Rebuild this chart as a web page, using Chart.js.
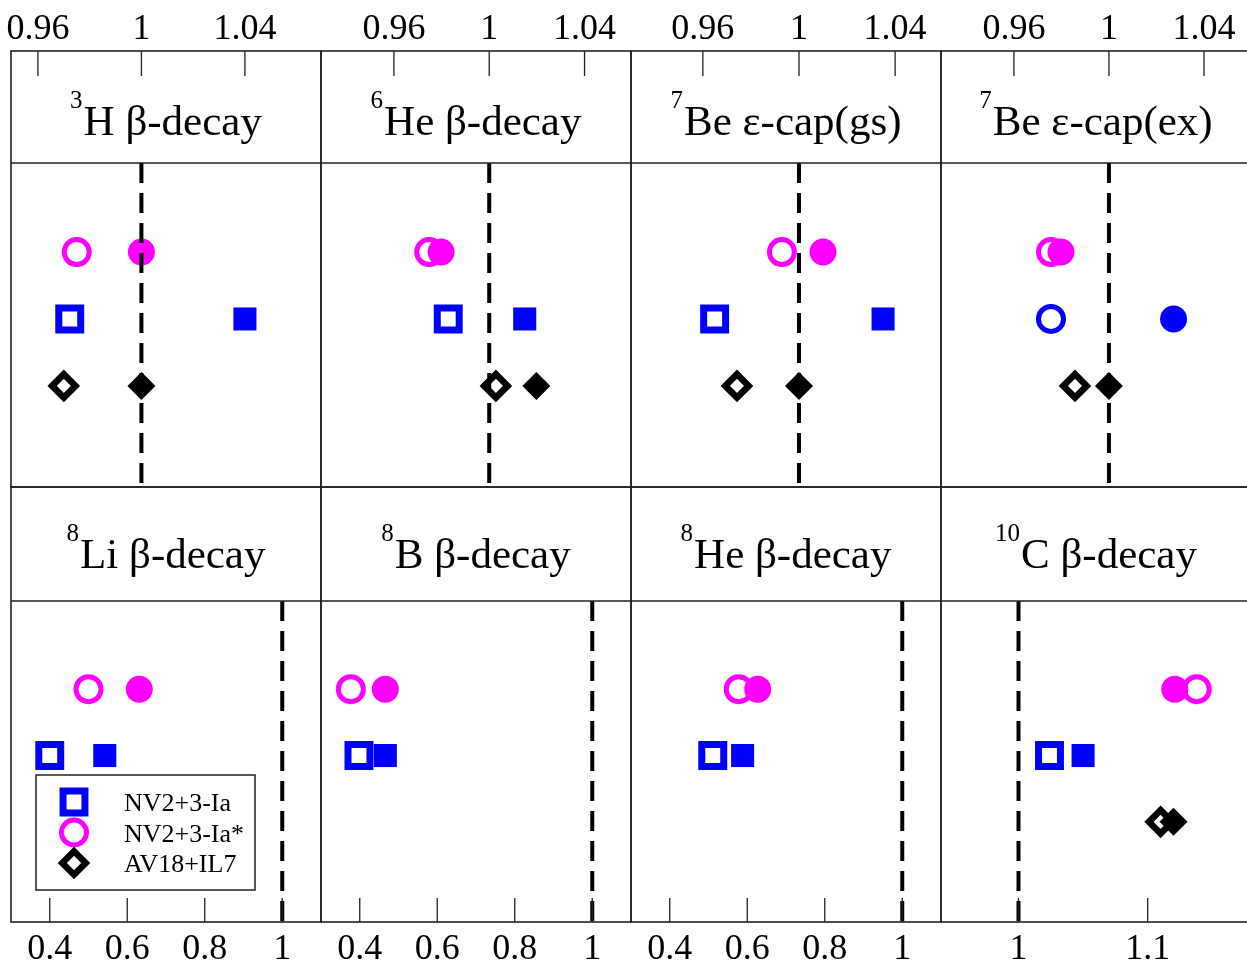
<!DOCTYPE html>
<html lang="en">
  <head>
    <title>Decay ratios</title>
    <meta charset="utf-8" />
    <script src="https://cdn.jsdelivr.net/npm/chart.js@4.4.1/dist/chart.umd.min.js"></script>
    <style>
      html, body { margin: 0; padding: 0; background: #fff; overflow: hidden; }
      #wrap { position: relative; width: 1247px; height: 966px; overflow: hidden; }
      #wrap canvas { position: absolute; left: -200px; top: 0; }
    </style>
  </head>
  <body>
    <div id="wrap"></div>

    <script>
      // panel titles (superscript mass number + process)
      var isotopes = ["3", "6", "7", "7", "8", "8", "8", "10"];
      var processes = ["H β-decay", "He β-decay", "Be ε-cap(gs)", "Be ε-cap(ex)",
                       "Li β-decay", "B β-decay", "He β-decay", "C β-decay"];
      var seriesNames = ["NV2+3-Ia", "NV2+3-Ia*", "AV18+IL7"];

      // ratios, one per panel (null = no value)
      var nvOpen       = [0.9723, 0.9828, 0.9649, 0.9756, 0.400, 0.398, 0.511, 1.024];
      var nvFilled     = [1.0400, 1.0149, 1.0350, 1.0272, 0.542, 0.466, 0.588, 1.050];
      var nvStarOpen   = [0.9750, 0.9748, 0.9929, 0.9756, 0.500, 0.377, 0.578, 1.138];
      var nvStarFilled = [1.0000, 0.9798, 1.0100, 0.9798, 0.631, 0.466, 0.627, 1.121];
      var avOpen       = [0.9700, 1.0028, 0.9742, 0.9857, null, null, null, 1.110];
      var avFilled     = [1.0000, 1.0198, 1.0000, 1.0000, null, null, null, 1.120];
      var refLine      = [1, 1, 1, 1, 1, 1, 1, 1];
      // the 7Be(ex) panel uses circles for NV2+3-Ia
      var nvShape = ["rect", "rect", "rect", "circle", "rect", "rect", "rect", "rect"];

      // axes
      var xMin = [0.9496, 0.9294, 0.9301, 0.9293, 0.30, 0.30, 0.30, 0.94];
      var xMax = [1.0694, 1.0595, 1.0591, 1.0598, 1.10, 1.10, 1.10, 1.18];
      var topTicks = ["0.96", "1", "1.04"];
      var bottomTicks = ["0.4", "0.6", "0.8", "1"];
      var lastTicks = ["1", "1.1"];
      // rows: AV18+IL7, NV2+3-Ia, NV2+3-Ia*
      var rowY = [1, 2, 3];
      var yMin = -0.51, yMax = 4.33;

      // canvases overhang the page by OFF on the left so no side padding is tiny
      var OFF = 200, W = 1660, H = 966;
      var colLeft = [11, 321, 631, 941];
      var colRight = [321, 631, 941, 1251];
      var SERIF = '"Liberation Serif", "Times New Roman", serif';
      var BLUE = "#0000ff", PINK = "#ff00ff", INK = "#222";

      var styles = {
        openSquare:    { shape: "rect",    radius: 15.5, border: 7,   color: BLUE,   bg: "#fff" },
        filledSquare:  { shape: "rect",    radius: 16.3, border: 0,   color: BLUE,   bg: BLUE },
        openCircleB:   { shape: "circle",  radius: 12.5, border: 5,   color: BLUE,   bg: "#fff" },
        filledCircleB: { shape: "circle",  radius: 13.5, border: 0,   color: BLUE,   bg: BLUE },
        openCircle:    { shape: "circle",  radius: 12.5, border: 5,   color: PINK,   bg: "#fff" },
        filledCircle:  { shape: "circle",  radius: 13.5, border: 0,   color: PINK,   bg: PINK },
        openDiamond:   { shape: "rectRot", radius: 11.7, border: 6.5, color: "#000", bg: "#fff" },
        filledDiamond: { shape: "rectRot", radius: 14,   border: 0,   color: "#000", bg: "#000" }
      };

      function pointSet(label, value, row, st) {
        return {
          label: label,
          data: [{ x: value, y: rowY[row] }],
          pointStyle: st.shape,
          pointRadius: st.radius,
          pointBorderWidth: st.border,
          pointBorderColor: st.color,
          pointBackgroundColor: st.bg
        };
      }

      function drawMarker(ctx, st, x, y) {
        ctx.fillStyle = st.bg;
        ctx.strokeStyle = st.color;
        ctx.lineWidth = st.border;
        if (Chart.helpers && Chart.helpers.drawPoint) {
          Chart.helpers.drawPoint(ctx, { pointStyle: st.shape, radius: st.radius, borderWidth: st.border, rotation: 0 }, x, y);
          return;
        }
        var r = st.radius;
        ctx.beginPath();
        if (st.shape === "circle") ctx.arc(x, y, r, 0, Math.PI * 2);
        else if (st.shape === "rect") ctx.rect(x - r * Math.SQRT1_2, y - r * Math.SQRT1_2, 2 * r * Math.SQRT1_2, 2 * r * Math.SQRT1_2);
        else { ctx.moveTo(x - r, y); ctx.lineTo(x, y - r); ctx.lineTo(x + r, y); ctx.lineTo(x, y + r); ctx.closePath(); }
        ctx.fill();
        if (st.border > 0) ctx.stroke();
      }

      var framePlugin = {
        id: "panelFrame",
        afterDraw: function (chart) {
          var o = chart.options.plugins.panelFrame;
          var ctx = chart.ctx, a = chart.chartArea, xs = chart.scales.x;
          var stripTop = o.top ? 51 : 487;
          ctx.save();
          ctx.strokeStyle = INK;
          ctx.lineWidth = 1.6;
          ctx.strokeRect(a.left, stripTop, a.right - a.left, a.bottom - stripTop);
          ctx.beginPath();
          ctx.moveTo(a.left, a.top);
          ctx.lineTo(a.right, a.top);
          ctx.stroke();

          // inward tick marks
          ctx.lineWidth = 1.3;
          ctx.beginPath();
          xs.ticks.forEach(function (t) {
            var px = xs.getPixelForValue(t.value);
            if (o.top) { ctx.moveTo(px, 51); ctx.lineTo(px, 76); }
            else { ctx.moveTo(px, a.bottom); ctx.lineTo(px, a.bottom - 24); }
          });
          ctx.stroke();

          // panel title
          var base = o.top ? 135 : 568;
          ctx.fillStyle = "#000";
          ctx.textBaseline = "alphabetic";
          ctx.textAlign = "left";
          ctx.font = "25px " + SERIF;
          var w1 = ctx.measureText(o.iso).width + 1;
          ctx.font = "43px " + SERIF;
          var w2 = ctx.measureText(o.name).width;
          var x0 = (a.left + a.right) / 2 - (w1 + w2) / 2;
          ctx.font = "25px " + SERIF;
          ctx.fillText(o.iso, x0, base - 27);
          ctx.font = "43px " + SERIF;
          ctx.fillText(o.name, x0 + w1, base);

          // figure legend lives in the 8Li panel
          if (o.legend) {
            ctx.translate(OFF, 0);
            ctx.lineWidth = 1.5;
            ctx.strokeStyle = INK;
            ctx.strokeRect(36, 775, 219, 115);
            var legendStyles = [styles.openSquare, styles.openCircle, styles.openDiamond];
            seriesNames.forEach(function (name, k) {
              var y = 802 + k * 30.5;
              drawMarker(ctx, legendStyles[k], 74, y);
              ctx.fillStyle = "#000";
              ctx.font = "26px " + SERIF;
              ctx.fillText(name, 124, y + 9);
            });
          }
          ctx.restore();
        }
      };

      var wrap = document.getElementById("wrap");

      function makePanel(i) {
        var col = i % 4;
        var top = i < 4;
        var labels = top ? topTicks : (col === 3 ? lastTicks : bottomTicks);

        var datasets = [{
          label: "ref",
          data: [{ x: refLine[i], y: yMax }, { x: refLine[i], y: yMin }],
          showLine: true,
          borderColor: "#000",
          borderWidth: 4,
          borderDash: [20, 10],
          pointRadius: 0,
          fill: false
        }];
        var nvO = nvShape[i] === "circle" ? styles.openCircleB : styles.openSquare;
        var nvF = nvShape[i] === "circle" ? styles.filledCircleB : styles.filledSquare;
        if (nvFilled[i] !== null) datasets.push(pointSet(seriesNames[0], nvFilled[i], 1, nvF));
        if (nvStarFilled[i] !== null) datasets.push(pointSet(seriesNames[1], nvStarFilled[i], 2, styles.filledCircle));
        if (avFilled[i] !== null) datasets.push(pointSet(seriesNames[2], avFilled[i], 0, styles.filledDiamond));
        if (nvOpen[i] !== null) datasets.push(pointSet(seriesNames[0], nvOpen[i], 1, nvO));
        if (nvStarOpen[i] !== null) datasets.push(pointSet(seriesNames[1], nvStarOpen[i], 2, styles.openCircle));
        if (avOpen[i] !== null) datasets.push(pointSet(seriesNames[2], avOpen[i], 0, styles.openDiamond));

        var canvas = document.createElement("canvas");
        canvas.width = W;
        canvas.height = H;
        wrap.appendChild(canvas);

        new Chart(canvas, {
          type: "scatter",
          data: { datasets: datasets },
          options: {
            responsive: false,
            devicePixelRatio: 1,
            animation: false,
            events: [],
            layout: {
              padding: {
                left: colLeft[col] + OFF,
                right: W - colRight[col] - OFF,
                top: top ? 0 : 601,
                bottom: top ? H - 487 : 0
              }
            },
            scales: {
              x: {
                type: "linear",
                position: top ? "top" : "bottom",
                min: xMin[i],
                max: xMax[i],
                bounds: "data",
                grid: { display: false, drawTicks: false },
                border: { display: false },
                ticks: {
                  color: "#000",
                  font: { family: SERIF, size: 36 },
                  padding: top ? 112 : 6,
                  maxRotation: 0,
                  autoSkip: false,
                  callback: function (v, idx) { return labels[idx]; }
                },
                afterBuildTicks: function (s) {
                  s.ticks = labels.map(function (t) { return { value: parseFloat(t) }; });
                },
                afterFit: function (s) {
                  s.height = top ? 163 : 44;
                  s.paddingLeft = 0;
                  s.paddingRight = 0;
                }
              },
              y: { type: "linear", display: false, min: yMin, max: yMax }
            },
            plugins: {
              legend: { display: false },
              title: { display: false },
              tooltip: { enabled: false },
              panelFrame: { top: top, iso: isotopes[i], name: processes[i], legend: i === 4 }
            }
          },
          plugins: [framePlugin]
        });
      }

      for (var i = 0; i < 8; i++) makePanel(i);
    </script>
  </body>
</html>
